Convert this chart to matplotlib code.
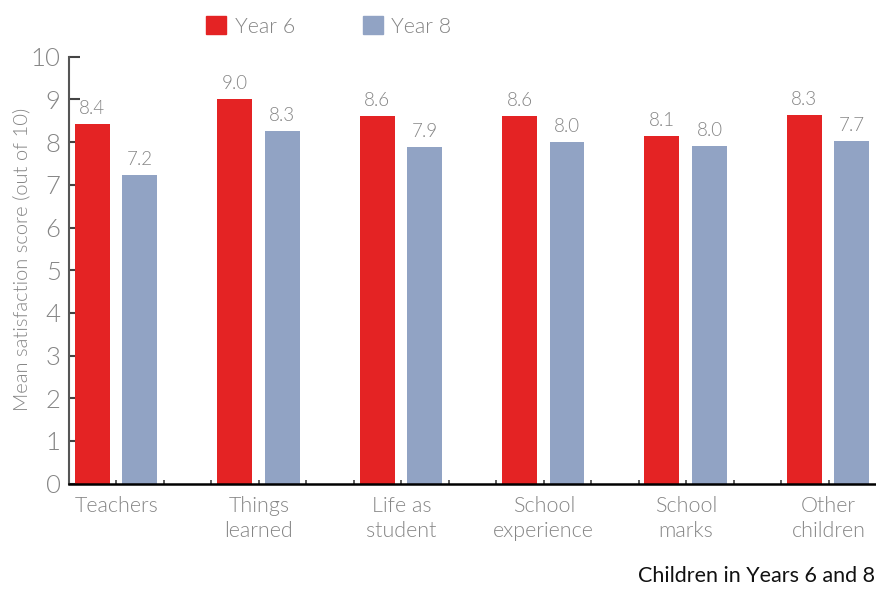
import numpy as np
import matplotlib
matplotlib.use("Agg")
import matplotlib.pyplot as plt
from matplotlib.patches import Patch

plt.rcParams['font.family'] = ['Lato', 'DejaVu Sans']

categories = ["Teachers", "Things\nlearned", "Life as\nstudent", "School\nexperience",
              "School\nmarks", "Other\nchildren"]
# bar heights as drawn, and the numbers printed above them
year6 = [8.42, 9.0, 8.61, 8.61, 8.14, 8.63]
year8 = [7.23, 8.26, 7.89, 8.0, 7.9, 8.03]
year6_labels = ["8.4", "9.0", "8.6", "8.6", "8.1", "8.3"]
year8_labels = ["7.2", "8.3", "7.9", "8.0", "8.0", "7.7"]
yticks = list(range(0, 11))

red = "#E42324"
blue = "#91A3C4"
grey = "#858585"
LW = 300

fig = plt.figure(figsize=(8.76, 5.92), dpi=100)
ax = fig.add_axes([69/876, 108.3/592, 807/876, 427/592])

# each group takes three slots: red, blue, empty
n = len(categories)
x6 = np.arange(n) * 3 + 0.49
x8 = np.arange(n) * 3 + 1.49
w = 0.735
ax.bar(x6, year6, width=w, color=red, zorder=2)
ax.bar(x8, year8, width=w, color=blue, zorder=2)

for x, h, t in zip(x6, year6, year6_labels):
    ax.text(x, h + 0.17, t, ha='center', va='bottom', color=grey, fontsize=13.5, fontweight=LW)
for x, h, t in zip(x8, year8, year8_labels):
    ax.text(x, h + 0.17, t, ha='center', va='bottom', color=grey, fontsize=13.5, fontweight=LW)

ax.set_xlim(0, 17)
ax.set_ylim(0, 10)
ax.set_yticks(yticks)
ax.set_yticklabels([str(v) for v in yticks], fontsize=18.5, color=grey, fontweight=LW)

bounds = np.arange(1, 17)
labs = []
for b in bounds:
    labs.append(categories[(b - 1) // 3] if (b - 1) % 3 == 0 else "")
ax.set_xticks(bounds)
ax.set_xticklabels(labs, fontsize=15.5, color=grey, fontweight=LW, linespacing=1.3, va='top')

ax.tick_params(axis='y', direction='in', length=8, width=1.5, color='#444444', pad=6)
ax.tick_params(axis='x', direction='in', length=3, width=1.2, color='#444444', pad=9)

for s in ['top', 'right']:
    ax.spines[s].set_visible(False)
ax.spines['left'].set_color('#555555')
ax.spines['left'].set_linewidth(1.5)
ax.spines['bottom'].set_color('black')
ax.spines['bottom'].set_linewidth(1.8)

ax.set_ylabel("Mean satisfaction score (out of 10)", fontsize=14.5, color=grey, fontweight=LW)
ax.yaxis.set_label_coords(-0.048, 0.525)

handles = [Patch(color=red, label="Year 6"), Patch(color=blue, label="Year 8")]
leg = fig.legend(handles=handles, loc='upper left', bbox_to_anchor=(206/876, 1 - 16/592),
                 ncol=2, frameon=False, fontsize=15.5, handlelength=0.93, handleheight=0.93,
                 handletextpad=0.4, columnspacing=3.15, borderpad=0, borderaxespad=0)
for t in leg.get_texts():
    t.set_color(grey)
    t.set_fontweight(LW)

fig.text(0.999, 0.01, "Children in Years 6 and 8", ha='right', va='bottom',
         fontsize=15.5, color='#111111')

fig.savefig("out.png", dpi=100)
